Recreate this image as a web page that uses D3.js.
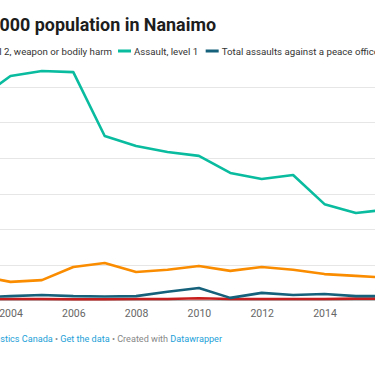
<!DOCTYPE html>
<html>
<head>
<meta charset="utf-8">
<script src="https://cdn.jsdelivr.net/npm/d3@7"></script>
<style>
  body { margin: 0; background: #fff; overflow: hidden; }
  svg { display: block; font-family: Roboto, "Noto Sans", sans-serif; }
</style>
</head>
<body>
<div id="chart"></div>
<script>
// data (rate per 100,000 population)
var years = [2003, 2004, 2005, 2006, 2007, 2008, 2009, 2010, 2011, 2012, 2013, 2014, 2015, 2016];
var level3 = [3, 3, 3, 2, 2, 3, 3, 5, 3, 3, 3, 3, 4, 4];
var level2 = [68, 51, 56, 93, 104, 79, 85, 96, 82, 93, 85, 73, 68, 63];
var level1 = [566, 631, 645, 642, 462, 434, 417, 406, 358, 341, 352, 270, 245, 255];
var peaceOfficer = [7, 11, 14, 11, 10, 11, 23, 34, 6, 20, 14, 17, 11, 11];
var yTicks = [0, 100, 200, 300, 400, 500, 600];
var xTicks = [2004, 2006, 2008, 2010, 2012, 2014];

var seriesNames = ["Assault, level 3, aggravated", "Assault, level 2, weapon or bodily harm",
  "Assault, level 1", "Total assaults against a peace officer"];
var seriesColors = ["#c71e1d", "#fa8c00", "#09bb9f", "#15607a"];
var seriesValues = [level3, level2, level1, peaceOfficer];

// define svg area
var svgWidth = 375;
var svgHeight = 366;

var svg = d3.select("#chart")
  .append("svg")
  .attr("width", svgWidth)
  .attr("height", svgHeight);

// scales (chart is cropped on both sides)
var x = d3.scaleLinear()
  .domain([2004, 2014])
  .range([10.5, 324.5]);

var y = d3.scaleLinear()
  .domain([0, 600])
  .range([300, 87]);

// title
svg.append("text")
  .attr("x", 216)
  .attr("y", 30.5)
  .attr("text-anchor", "end")
  .attr("font-size", 17.9)
  .attr("font-weight", 700)
  .attr("fill", "#1d1d1d")
  .text("Assault rates per 100,000 population in Nanaimo");

// legend, laid out from the "Assault, level 1" item
var legend = svg.append("g");
var items = seriesNames.map(function(name, i) {
  var g = legend.append("g");
  g.append("rect")
    .attr("width", 13)
    .attr("height", 3)
    .attr("y", -1.5)
    .attr("fill", seriesColors[i]);
  var t = g.append("text")
    .attr("x", 16)
    .attr("y", 3.5)
    .attr("font-size", 9.7)
    .attr("fill", "#333")
    .text(name);
  return { g: g, w: 16 + t.node().getComputedTextLength() };
});

var pos = [];
pos[2] = 118;
pos[3] = pos[2] + items[2].w + 7.5;
pos[1] = pos[2] - 6 - items[1].w;
pos[0] = pos[1] - 7 - items[0].w;
items.forEach(function(it, i) {
  it.g.attr("transform", `translate(${pos[i]}, 51)`);
});

// gridlines
svg.append("g")
  .selectAll("line")
  .data(yTicks.slice(1))
  .enter()
  .append("line")
  .attr("x1", -50)
  .attr("x2", svgWidth + 50)
  .attr("y1", d => Math.round(y(d)) + 0.5)
  .attr("y2", d => Math.round(y(d)) + 0.5)
  .attr("stroke", "#e6e6e6")
  .attr("stroke-width", 1);

// baseline
svg.append("line")
  .attr("x1", -50)
  .attr("x2", svgWidth + 50)
  .attr("y1", y(0) + 0.5)
  .attr("y2", y(0) + 0.5)
  .attr("stroke", "#b5b5b5")
  .attr("stroke-width", 1);

// x axis labels
var xAxis = svg.append("g")
  .attr("transform", `translate(0, ${y(0)})`)
  .call(d3.axisBottom(x).tickValues(xTicks).tickFormat(d3.format("d")).tickSize(0).tickPadding(10));

xAxis.select(".domain").remove();
xAxis.selectAll("text")
  .attr("font-family", "Roboto, sans-serif")
  .attr("font-size", 10.5)
  .attr("fill", "#666");

// lines
var line = d3.line()
  .x((d, i) => x(years[i]))
  .y(d => y(d));

svg.append("g")
  .selectAll("path")
  .data(seriesValues)
  .enter()
  .append("path")
  .attr("d", d => line(d))
  .attr("fill", "none")
  .attr("stroke", (d, i) => seriesColors[i])
  .attr("stroke-width", 2.6)
  .attr("stroke-linejoin", "round");

// footer
var footer = svg.append("text")
  .attr("x", 222)
  .attr("y", 342)
  .attr("text-anchor", "end")
  .attr("font-size", 9.1)
  .attr("fill", "#888");

footer.append("tspan").attr("fill", "#888").text("Source: ");
footer.append("tspan").attr("fill", "#1d9fd8").text("Statistics Canada");
footer.append("tspan").text(" • ");
footer.append("tspan").attr("fill", "#1d9fd8").text("Get the data");
footer.append("tspan").text(" • Created with ");
footer.append("tspan").attr("fill", "#1d9fd8").text("Datawrapper");
</script>
</body>
</html>
